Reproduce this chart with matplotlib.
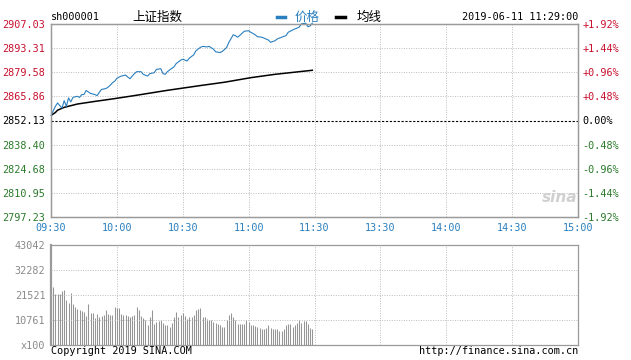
import matplotlib
matplotlib.use("Agg")
import matplotlib.pyplot as plt
from matplotlib.lines import Line2D

# minutes since 09:30 (120 = 11:30 / 13:00, 240 = 15:00)
price_min = [0, 2, 3, 5, 6, 7, 8, 9, 10, 12, 13, 14, 15, 16, 17, 18, 20, 21, 22, 23,
             25, 26, 27, 28, 29, 30, 31, 32, 34, 35, 36, 37, 38, 39, 41, 42, 44, 45, 47, 48,
             50, 51, 52, 53, 55, 56, 57, 59, 60, 62, 63, 65, 66, 68, 69, 71, 72, 74, 75, 77,
             78, 80, 81, 83, 84, 85, 87, 88, 90, 91, 93, 94, 96, 97, 99, 100, 102, 103, 105, 107,
             108, 110, 111, 113, 114, 116, 117, 118, 119]
price = [2855.0, 2860.2, 2862.1, 2859.2, 2863.4, 2860.2, 2865.0, 2862.7, 2865.3, 2865.9,
         2865.3, 2866.9, 2866.9, 2869.2, 2868.4, 2867.5, 2866.9, 2866.3, 2868.2, 2869.8,
         2870.3, 2871.1, 2872.2, 2873.6, 2874.5, 2876.1, 2876.8, 2877.4, 2878.0, 2876.8,
         2875.9, 2877.4, 2878.8, 2879.9, 2879.9, 2878.4, 2877.4, 2878.8, 2879.3, 2881.2,
         2881.6, 2878.8, 2878.4, 2879.9, 2881.8, 2882.6, 2884.5, 2886.4, 2887.0, 2886.0,
         2887.6, 2889.5, 2891.8, 2893.7, 2894.3, 2894.0, 2894.3, 2892.7, 2891.2, 2890.8,
         2891.4, 2893.7, 2896.6, 2900.9, 2900.4, 2899.5, 2901.7, 2902.9, 2903.2, 2902.3,
         2900.9, 2899.8, 2899.5, 2899.0, 2897.9, 2896.6, 2897.5, 2898.5, 2899.5, 2900.4,
         2902.3, 2903.6, 2904.2, 2905.2, 2907.1, 2907.5, 2905.5, 2905.9, 2907.5]

avg_min = [0, 2, 3, 6, 12, 20, 28, 38, 53, 68, 79, 91, 102, 119]
avg_price = [2855.0, 2856.7, 2858.0, 2859.6, 2861.5, 2863.0, 2864.4, 2866.3,
             2869.3, 2872.0, 2873.9, 2876.5, 2878.4, 2880.7]

# per-minute volume, in lots of 100 shares
volume = [25830, 24820, 21950, 21950, 21950, 23390, 23670, 19370, 18220, 22530,
          17650, 16210, 15350, 15060, 14780, 14350, 12480, 17650, 13920, 13630,
          11480, 13340, 11910, 12480, 12910, 15060, 13340, 12910, 12910, 16210,
          15780, 15780, 13340, 12910, 12910, 12480, 12190, 12480, 12910, 16210,
          15060, 12480, 11480, 10760, 8610, 11910, 15060, 9040, 10040, 10470,
          10760, 9330, 8610, 8610, 7890, 9330, 11910, 14350, 11910, 12910,
          13630, 12480, 11050, 11910, 11910, 12910, 15060, 15500, 15780, 12190,
          11910, 11050, 10760, 10760, 10040, 9610, 9040, 8610, 7890, 7890,
          10760, 12910, 13630, 11910, 10760, 9040, 9040, 9040, 9040, 10760,
          10040, 8610, 8610, 8180, 7600, 7170, 6740, 6740, 7170, 8610,
          7170, 6740, 6740, 6740, 6170, 6170, 6740, 8610, 9040, 9040,
          7890, 8610, 9330, 10760, 9330, 10470, 10470, 9040, 7170, 6740]

prev_close = 2852.13
price_ticks = [2797.23, 2810.95, 2824.68, 2838.40, 2852.13, 2865.86, 2879.58, 2893.31, 2907.03]
pct_labels = ["-1.92%", "-1.44%", "-0.96%", "-0.48%", "0.00%", "+0.48%", "+0.96%", "+1.44%", "+1.92%"]
time_ticks = [0, 30, 60, 90, 120, 150, 180, 210, 240]
time_labels = ["09:30", "10:00", "10:30", "11:00", "11:30", "13:30", "14:00", "14:30", "15:00"]
vol_ticks = [0, 10761, 21521, 32282, 43042]
vol_labels = ["x100", "10761", "21521", "32282", "43042"]

RED, GREEN, BLUE = "#c8102e", "#2b7a2b", "#2a7fbf"
GRID, FRAME = "#bcbcbc", "#9a9a9a"
MONO = "DejaVu Sans Mono"
CJK = ["Noto Sans CJK SC", "DejaVu Sans"]
FS = 7.3

W, H = 631, 360
fig = plt.figure(figsize=(W / 100, H / 100), dpi=100)
fig.patch.set_facecolor("white")

def px(x, y):
    return x / W, 1 - y / H

# ---- price panel ----
ax = fig.add_axes([51 / W, 1 - 217 / H, 527 / W, 193 / H])
ax.set_xlim(0, 240)
ax.set_ylim(price_ticks[0], price_ticks[-1])
for y in price_ticks[1:-1]:
    if y == prev_close:
        ax.axhline(y, color="black", lw=0.8, ls=(0, (2, 1.5)), zorder=1)
    else:
        ax.axhline(y, color=GRID, lw=0.7, ls=(0, (1, 1.5)), zorder=1)
for t in time_ticks[1:-1]:
    ax.axvline(t, color=GRID, lw=0.7, ls=(0, (1, 1.5)), zorder=1)

ax.plot(avg_min, avg_price, color="black", lw=1.1, zorder=3)
ax.plot(price_min, price, color=BLUE, lw=0.8, zorder=4, clip_on=False)

def tick_color(v):
    if abs(v - prev_close) < 1e-6:
        return "black"
    return RED if v > prev_close else GREEN

ax.set_yticks(price_ticks)
ax.set_yticklabels([f"{v:.2f}" for v in price_ticks], fontfamily=MONO, fontsize=FS)
for lab, v in zip(ax.get_yticklabels(), price_ticks):
    lab.set_color(tick_color(v))
ax.set_xticks(time_ticks)
ax.set_xticklabels(time_labels, fontfamily=MONO, fontsize=FS, color=BLUE)
ax.tick_params(length=0, pad=4)

axr = ax.twinx()
axr.set_ylim(ax.get_ylim())
axr.set_yticks(price_ticks)
axr.set_yticklabels(pct_labels, fontfamily=MONO, fontsize=FS)
for lab, v in zip(axr.get_yticklabels(), price_ticks):
    lab.set_color(tick_color(v))
axr.tick_params(length=0, pad=3)

for a in (ax, axr):
    for s in a.spines.values():
        s.set_color(FRAME)
        s.set_linewidth(0.9)

ax.text(0.965, 0.1, "sina", transform=ax.transAxes, ha="center", va="center",
        fontsize=11, fontstyle="italic", fontweight="bold", color="#d0d0d0")

# ---- volume panel ----
axv = fig.add_axes([51 / W, 1 - 345 / H, 527 / W, 100 / H])
axv.set_xlim(0, 240)
axv.set_ylim(0, vol_ticks[-1])
for y in vol_ticks[1:-1]:
    axv.axhline(y, color=GRID, lw=0.7, ls=(0, (1, 1.5)), zorder=3)
for t in time_ticks[1:-1]:
    axv.axvline(t, color=GRID, lw=0.7, ls=(0, (1, 1.5)), zorder=1)
axv.vlines(range(len(volume)), 0, volume, color="#959595", lw=0.75, zorder=2)
axv.set_xticks([])
axv.set_yticks(vol_ticks)
axv.set_yticklabels(vol_labels, fontfamily=MONO, fontsize=FS, color="#8a8a8a")
axv.tick_params(length=0, pad=4)
for s in axv.spines.values():
    s.set_color(FRAME)
    s.set_linewidth(0.9)
axv.spines["left"].set_linewidth(1.6)

# ---- header and footer ----
fig.text(*px(51, 17), "sh000001", fontfamily=MONO, fontsize=FS, va="center", ha="left")
fig.text(*px(132, 17), "上证指数", family=CJK, fontsize=9, va="center", ha="left")
fig.add_artist(Line2D([277 / W, 285 / W], [1 - 17 / H] * 2, color=BLUE, lw=2.5))
fig.text(*px(295, 17), "价格", family=CJK, fontsize=9, color=BLUE, va="center", ha="left")
fig.add_artist(Line2D([336 / W, 345 / W], [1 - 17 / H] * 2, color="black", lw=2.5))
fig.text(*px(357, 17), "均线", family=CJK, fontsize=9, va="center", ha="left")
fig.text(*px(578, 17), "2019-06-11 11:29:00", fontfamily=MONO, fontsize=FS, va="center", ha="right")
fig.text(*px(51, 351), "Copyright 2019 SINA.COM", fontfamily=MONO, fontsize=FS, va="center", ha="left")
fig.text(*px(578, 351), "http://finance.sina.com.cn", fontfamily=MONO, fontsize=FS, va="center", ha="right")

fig.savefig("out.png", dpi=100)
